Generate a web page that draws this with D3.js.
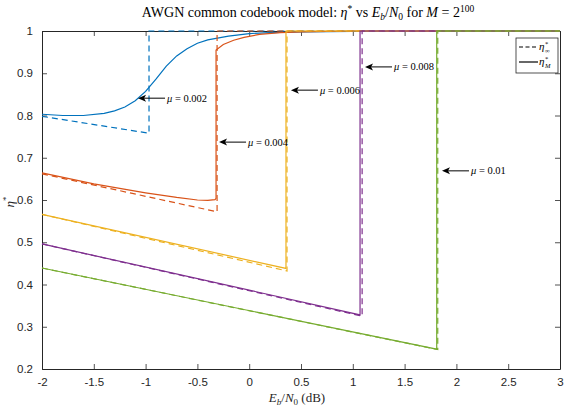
<!DOCTYPE html>
<html><head><meta charset="utf-8">
<script src="https://cdn.jsdelivr.net/npm/d3@7/dist/d3.min.js"></script>
<style>body{margin:0;background:#fff}</style></head>
<body>
<svg id="c" width="564" height="406"></svg>
<script>
// ---- data ----
const xTicks = [-2, -1.5, -1, -0.5, 0, 0.5, 1, 1.5, 2, 2.5, 3];
const yTicks = [0.2, 0.3, 0.4, 0.5, 0.6, 0.7, 0.8, 0.9, 1];
const muLabels = ["0.002", "0.004", "0.006", "0.008", "0.01"];
const colors = ["#0072BD", "#D95319", "#EDB120", "#7E2F8E", "#77AC30"];

// eta_inf (dashed)
const infX_002 = [-2, -0.967, -0.967, 3];
const infY_002 = [0.798, 0.758, 1, 1];
const infX_004 = [-2, -0.31, -0.31, 3];
const infY_004 = [0.662, 0.572, 1, 1];
const infX_006 = [-2, 0.365, 0.365, 3];
const infY_006 = [0.566, 0.432, 1, 1];
const infX_008 = [-2, 1.09, 1.09, 3];
const infY_008 = [0.496, 0.325, 1, 1];
const infX_010 = [-2, 1.82, 1.82, 3];
const infY_010 = [0.439, 0.246, 1, 1];

// eta_M (solid)
const mX_002 = [-2, -1.8, -1.6, -1.4, -1.3, -1.2, -1.1, -1.0, -0.9, -0.8, -0.7, -0.6, -0.5, -0.4, -0.2, 0, 0.2, 0.5, 1, 1.5, 3];
const mY_002 = [0.803, 0.800, 0.800, 0.805, 0.811, 0.820, 0.835, 0.857, 0.886, 0.917, 0.941, 0.958, 0.971, 0.979, 0.988, 0.994, 0.996, 0.998, 0.999, 1, 1];
const mX_004 = [-2, -1.5, -1.0, -0.7, -0.5, -0.4, -0.33, -0.32, -0.32, -0.25, -0.15, -0.05, 0.1, 0.3, 0.5, 1, 3];
const mY_004 = [0.664, 0.638, 0.617, 0.606, 0.600, 0.599, 0.601, 0.604, 0.955, 0.968, 0.978, 0.985, 0.992, 0.996, 0.998, 1, 1];
const mX_006 = [-2, 0.355, 0.355, 3];
const mY_006 = [0.566, 0.438, 1, 1];
const mX_008 = [-2, 1.07, 1.07, 3];
const mY_008 = [0.496, 0.328, 1, 1];
const mX_010 = [-2, 1.81, 1.81, 3];
const mY_010 = [0.439, 0.247, 1, 1];

// annotation arrow tips (data coords)
const annX = [-1.073, -0.291, 0.403, 1.118, 1.861];
const annY = [0.841, 0.737, 0.860, 0.915, 0.669];

const infX = [infX_002, infX_004, infX_006, infX_008, infX_010];
const infY = [infY_002, infY_004, infY_006, infY_008, infY_010];
const mX = [mX_002, mX_004, mX_006, mX_008, mX_010];
const mY = [mY_002, mY_004, mY_006, mY_008, mY_010];

// ---- layout ----
const L = 42, R = 560, T = 31, B = 369;
const svg = d3.select("#c");
const x = d3.scaleLinear().domain([-2, 3]).range([L, R]);
const y = d3.scaleLinear().domain([0.2, 1]).range([B, T]);
const axCol = "#262626";
const tickFont = "'Liberation Sans', Arial, sans-serif";
const serif = "'Liberation Serif', 'Times New Roman', serif";

// axes (MATLAB box style, inward ticks)
const gx = svg.append("g").attr("transform", `translate(0,${B})`)
  .call(d3.axisBottom(x).tickValues(xTicks).tickFormat(d3.format("")).tickSizeInner(-5).tickSizeOuter(0).tickPadding(9));
const gxt = svg.append("g").attr("transform", `translate(0,${T})`)
  .call(d3.axisTop(x).tickValues(xTicks).tickFormat("").tickSizeInner(-5).tickSizeOuter(0));
const gy = svg.append("g").attr("transform", `translate(${L},0)`)
  .call(d3.axisLeft(y).tickValues(yTicks).tickFormat(d3.format("")).tickSizeInner(-5).tickSizeOuter(0).tickPadding(9));
const gyr = svg.append("g").attr("transform", `translate(${R},0)`)
  .call(d3.axisRight(y).tickValues(yTicks).tickFormat("").tickSizeInner(-5).tickSizeOuter(0));
[gx, gxt, gy, gyr].forEach(g => {
  g.select(".domain").attr("stroke", axCol).attr("stroke-width", 1);
  g.selectAll(".tick line").attr("stroke", axCol).attr("stroke-width", 0.8);
  g.selectAll("text").attr("fill", axCol).style("font-family", tickFont).style("font-size", "11.5px");
});
gx.selectAll("text").text(d => d3.format("")(d).replace("−", "-"));
gy.selectAll("text").text(d => d3.format("")(d).replace("−", "-"));

// lines
const line = d3.line().x(d => x(d[0])).y(d => y(d[1]));
for (let i = 0; i < 5; i++) {
  const dInf = infX[i].map((v, k) => [v, infY[i][k]]);
  const dM = mX[i].map((v, k) => [v, mY[i][k]]);
  svg.append("path").attr("d", line(dInf)).attr("fill", "none")
    .attr("stroke", colors[i]).attr("stroke-width", 1.2).attr("stroke-dasharray", "6,4");
  svg.append("path").attr("d", line(dM)).attr("fill", "none")
    .attr("stroke", colors[i]).attr("stroke-width", 1.2);
}

// annotations
for (let i = 0; i < 5; i++) {
  const tx = x(annX[i]), ty = y(annY[i]);
  const tail = tx + 27;
  svg.append("line").attr("x1", tx + 4).attr("y1", ty).attr("x2", tail).attr("y2", ty)
    .attr("stroke", "#000").attr("stroke-width", 1);
  svg.append("path")
    .attr("d", `M${tx},${ty} L${tx + 8},${ty - 3.5} L${tx + 6},${ty} L${tx + 8},${ty + 3.5} Z`)
    .attr("fill", "#000");
  const t = svg.append("text").attr("x", tail + 2).attr("y", ty + 3.5)
    .style("font-family", serif).style("font-size", "10.5px").attr("fill", "#000");
  t.append("tspan").attr("font-style", "italic").text("μ");
  t.append("tspan").text(" = " + muLabels[i]);
}

// title
const title = svg.append("text").attr("x", 308).attr("y", 17).attr("text-anchor", "middle")
  .style("font-family", serif).style("font-size", "14px").attr("fill", "#000");
title.append("tspan").text("AWGN common codebook model: ");
title.append("tspan").attr("font-style", "italic").text("η");
title.append("tspan").attr("dy", -5).attr("font-size", "9.5px").text("*");
title.append("tspan").attr("dy", 5).text(" vs ");
title.append("tspan").attr("font-style", "italic").text("E");
title.append("tspan").attr("dy", 3).attr("font-size", "9.5px").attr("font-style", "italic").text("b");
title.append("tspan").attr("dy", -3).text("/");
title.append("tspan").attr("font-style", "italic").text("N");
title.append("tspan").attr("dy", 3).attr("font-size", "9.5px").text("0");
title.append("tspan").attr("dy", -3).text(" for ");
title.append("tspan").attr("font-style", "italic").text("M");
title.append("tspan").text(" = 2");
title.append("tspan").attr("dy", -5).attr("font-size", "9.5px").text("100");

// x label
const xl = svg.append("text").attr("x", 297).attr("y", 402).attr("text-anchor", "middle")
  .style("font-family", serif).style("font-size", "13px").attr("fill", axCol);
xl.append("tspan").attr("font-style", "italic").text("E");
xl.append("tspan").attr("dy", 3).attr("font-size", "9px").attr("font-style", "italic").text("b");
xl.append("tspan").attr("dy", -3).text("/");
xl.append("tspan").attr("font-style", "italic").text("N");
xl.append("tspan").attr("dy", 3).attr("font-size", "9px").text("0");
xl.append("tspan").attr("dy", -3).text(" (dB)");

// y label
const yl = svg.append("text").attr("transform", "translate(14,202) rotate(-90)").attr("text-anchor", "middle")
  .style("font-family", serif).style("font-size", "13px").attr("fill", axCol);
yl.append("tspan").attr("font-style", "italic").text("η");
yl.append("tspan").attr("dy", -5).attr("font-size", "9px").text("*");

// legend
const lg = svg.append("g");
lg.append("rect").attr("x", 516).attr("y", 38).attr("width", 42).attr("height", 35)
  .attr("fill", "#fff").attr("stroke", axCol).attr("stroke-width", 0.8);
lg.append("line").attr("x1", 519).attr("x2", 538).attr("y1", 47).attr("y2", 47)
  .attr("stroke", "#000").attr("stroke-width", 1.2).attr("stroke-dasharray", "4,2.5");
lg.append("line").attr("x1", 519).attr("x2", 538).attr("y1", 62).attr("y2", 62)
  .attr("stroke", "#000").attr("stroke-width", 1.2);
const legSub = ["∞", "M"];
[47, 62].forEach((ly, k) => {
  const g = lg.append("text").attr("x", 539).attr("y", ly + 3)
    .style("font-family", serif).style("font-size", "11px").attr("fill", "#000");
  g.append("tspan").attr("font-style", "italic").text("η");
  g.append("tspan").attr("x", 545).attr("y", ly - 1.5).attr("font-size", "6.5px").text("*");
  g.append("tspan").attr("x", 545).attr("y", ly + 6).attr("font-size", "6.5px")
    .attr("font-style", k === 1 ? "italic" : "normal").text(legSub[k]);
});
</script>
</body></html>
